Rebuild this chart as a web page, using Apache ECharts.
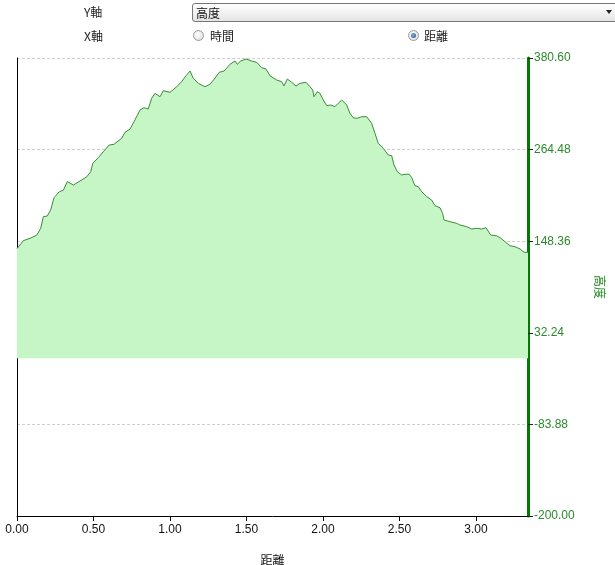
<!DOCTYPE html>
<html>
<head>
<meta charset="utf-8">
<script src="https://cdn.jsdelivr.net/npm/echarts@6/dist/echarts.min.js"></script>
<style>
  html, body { margin: 0; padding: 0; background: #fff; }
  #wrap { position: relative; width: 615px; height: 565px; overflow: hidden; }
  #chart { position: absolute; left: 0; top: 0; width: 615px; height: 565px; }
  .lbl { position: absolute; font-family: "Noto Sans CJK JP", sans-serif; font-size: 12px; color: #222; line-height: 14px; }
  #dd { position: absolute; left: 192px; top: 3px; width: 430px; height: 19px; border: 1px solid #777; border-radius: 3px;
        background: linear-gradient(#ffffff, #e4e4e4); box-sizing: border-box; }
  #dd span { position: absolute; left: 3px; top: 2px; font-family: "Noto Sans CJK JP", sans-serif; font-size: 12px; line-height: 14px; color: #111; }
  #tri { position: absolute; left: 606px; top: 10px; width: 0; height: 0; border-left: 3px solid transparent; border-right: 3px solid transparent; border-top: 4px solid #222; }
  .radio { position: absolute; width: 11px; height: 11px; border-radius: 50%; border: 1px solid #999;
           background: radial-gradient(circle at 40% 40%, #ffffff, #d8d8d8); box-sizing: border-box; }
  .radio.on::after { content: ""; position: absolute; left: 2px; top: 2px; width: 5px; height: 5px; border-radius: 50%;
           background: radial-gradient(circle at 40% 40%, #7fb0d8, #1f4f7f); }
</style>
</head>
<body>
<div id="wrap">
  <div id="chart"></div>
  <div class="lbl" style="left:84px; top:5px;">Y軸</div>
  <div id="dd"><span>高度</span></div>
  <div id="tri"></div>
  <div class="lbl" style="left:84px; top:29px;">X軸</div>
  <div class="radio" style="left:193px; top:30px;"></div>
  <div class="lbl" style="left:210px; top:29px;">時間</div>
  <div class="radio on" style="left:408px; top:30px;"></div>
  <div class="lbl" style="left:424px; top:29px;">距離</div>
</div>
<script>
// Distance (x) and elevation (y)
const distances = [0.000,0.041,0.085,0.129,0.155,0.172,0.198,0.220,0.242,0.276,0.303,0.329,0.368,0.412,0.456,0.482,0.495,0.531,0.564,0.603,0.634,0.684,0.706,0.739,0.765,0.804,0.830,0.858,0.880,0.902,0.935,0.956,1.000,1.044,1.076,1.105,1.131,1.152,1.185,1.229,1.261,1.294,1.322,1.353,1.392,1.425,1.440,1.462,1.497,1.534,1.567,1.599,1.627,1.654,1.697,1.730,1.745,1.767,1.795,1.824,1.850,1.889,1.915,1.933,1.941,1.963,1.980,2.002,2.024,2.050,2.078,2.100,2.122,2.155,2.176,2.198,2.224,2.253,2.286,2.318,2.340,2.361,2.394,2.427,2.449,2.464,2.486,2.514,2.536,2.564,2.580,2.601,2.623,2.645,2.678,2.710,2.732,2.765,2.782,2.791,2.830,2.874,2.895,2.939,2.972,3.005,3.037,3.065,3.096,3.135,3.157,3.190,3.222,3.255,3.288,3.314,3.340];
const elevations = [139.0,149.0,152.0,156.0,164.7,179.4,180.3,188.0,203.5,211.0,213.0,224.0,219.6,224.7,230.0,236.5,247.0,254.2,261.8,270.3,271.2,278.8,286.4,290.6,299.9,314.7,317.6,316.0,329.5,335.8,331.5,339.1,337.1,344.2,350.6,358.2,364.1,354.9,348.5,344.2,347.3,354.9,362.5,364.1,372.6,376.8,372.6,376.8,379.3,376.8,375.1,368.3,366.7,358.0,352.7,350.6,345.1,354.0,349.8,345.1,348.5,349.8,344.2,340.0,331.5,337.9,335.8,327.4,320.2,321.0,318.9,323.2,327.4,321.0,310.5,304.9,304.1,306.2,306.2,297.8,285.1,272.5,266.1,257.6,256.8,245.0,236.5,232.3,233.2,233.2,228.9,218.7,217.5,211.1,204.8,200.6,193.4,190.8,183.7,175.2,173.1,171.0,168.9,166.8,163.8,164.7,163.8,165.5,156.2,155.3,152.8,147.7,142.6,141.4,138.5,134.3,134.3];
const xAxisName = '距離';
const yAxisName = '高度';
const xMin = 0, xMax = 3.34, xStep = 0.5;
const yMin = -200.00, yMax = 380.60, yStep = 116.12;

const chart = echarts.init(document.getElementById('chart'), null, { renderer: 'canvas' });
const font = '"Liberation Sans", Arial, sans-serif';
chart.setOption({
  animation: false,
  backgroundColor: 'transparent',
  grid: { left: 17, right: 87, top: 58, bottom: 49, containLabel: false, outerBoundsMode: 'none' },
  xAxis: {
    type: 'value', min: xMin, max: xMax, interval: xStep,
    name: xAxisName, nameLocation: 'middle', nameGap: 38,
    nameTextStyle: { color: '#111', fontSize: 12, fontFamily: '"Noto Sans CJK JP", sans-serif' },
    axisLine: { show: true, onZero: false, lineStyle: { color: '#000', width: 1 } },
    axisTick: { show: true, length: 5, lineStyle: { color: '#000' } },
    axisLabel: { color: '#111', fontSize: 12, fontFamily: font, margin: 8,
      showMaxLabel: false,
      formatter: v => (v > 3.0001 ? '' : v.toFixed(2)) },
    splitLine: { show: false }
  },
  yAxis: [{
    type: 'value', position: 'right', min: yMin, max: yMax, interval: yStep,
    name: yAxisName, nameLocation: 'middle', nameGap: 66, nameRotate: -90,
    nameTextStyle: { color: '#1e8a1e', fontSize: 12, fontFamily: '"Noto Sans CJK JP", sans-serif' },
    axisLine: { show: true, onZero: false, lineStyle: { color: '#007a00', width: 3 } },
    axisTick: { show: true, length: 5, lineStyle: { color: '#222' } },
    axisLabel: { color: '#2a8a2a', fontSize: 12, fontFamily: font, margin: 6,
      formatter: v => v.toFixed(2) },
    splitLine: { show: true, lineStyle: { color: '#cfcfcf', type: [3, 2], width: 1 } }
  }, {
    type: 'value', position: 'left', min: yMin, max: yMax,
    axisLine: { show: true, onZero: false, lineStyle: { color: '#000', width: 1 } },
    axisTick: { show: false }, axisLabel: { show: false }, splitLine: { show: false }
  }],
  series: [{
    type: 'line', yAxisIndex: 0,
    data: distances.map((d, i) => [d, elevations[i]]),
    showSymbol: false, symbol: 'none',
    lineStyle: { color: '#3a8a3a', width: 1 },
    areaStyle: { color: '#c6f6c6', opacity: 1 },
    z: 1
  }]
});
</script>
</body>
</html>
